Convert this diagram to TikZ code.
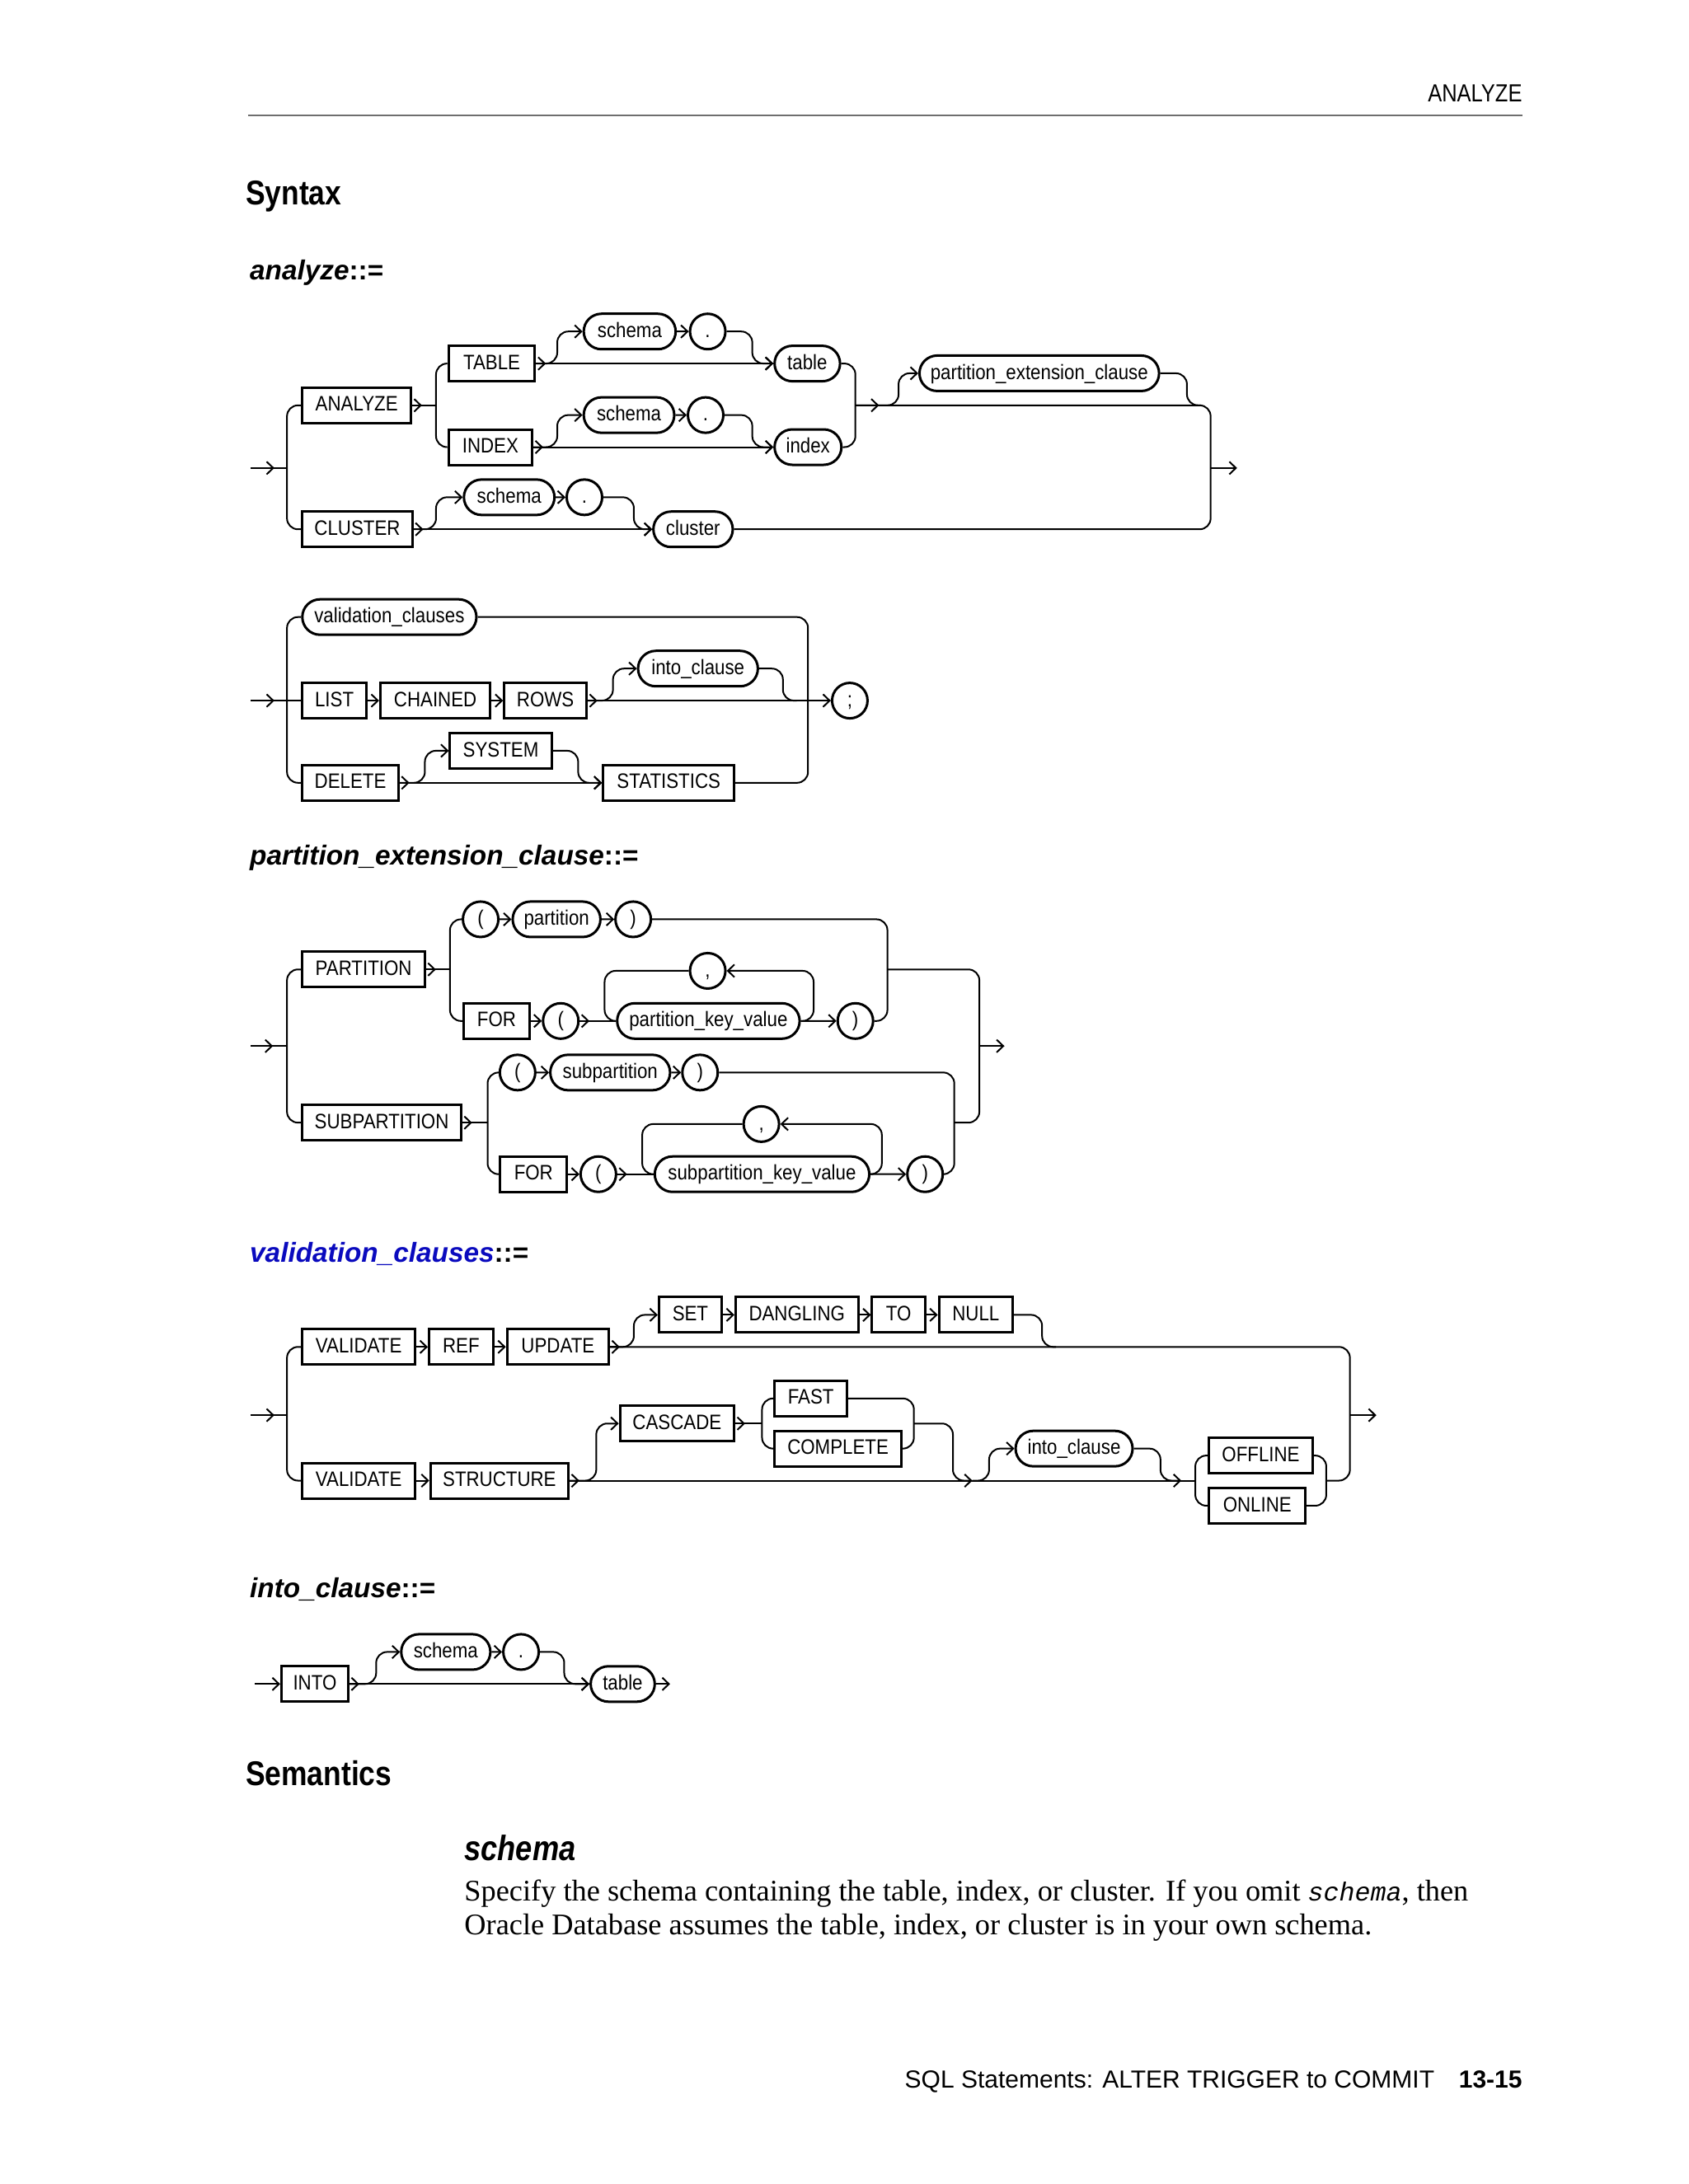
\documentclass[tikz,border=0pt]{standalone}
\usepackage{fontspec}
\setmainfont{Liberation Serif}
\setsansfont{Liberation Sans}
\setmonofont{Liberation Mono}
\newfontfamily\railfont[FakeStretch=0.88]{Liberation Sans}
\newfontfamily\narrowfont[FakeStretch=0.85]{Liberation Sans}
\usetikzlibrary{arrows.meta,shapes.misc}
\definecolor{linkblue}{RGB}{10,10,190}
\definecolor{rulegray}{RGB}{110,110,110}

\begin{document}
\begin{tikzpicture}[x=0.507pt,y=-0.507pt,
  font=\railfont\fontsize{7.6}{9}\selectfont,
  kw/.style={draw,line width=0.9pt,rectangle,minimum height=12.9pt,inner sep=0pt,text height=5.6pt,text depth=1.3pt},
  nt/.style={draw,line width=0.9pt,rounded rectangle,minimum height=12.9pt,inner sep=0pt,text height=5.6pt,text depth=1.3pt},
  wd/.style={minimum width=#1*0.507pt},
  rail/.style={line width=0.6pt},
  rc/.style={rounded corners=4pt},
  tip/.style={-{Straight Barb[length=2.4pt,width=4.6pt]}},
  txt/.style={inner sep=0pt,anchor=base west},
  ttl/.style={txt,font=\sffamily\bfseries\fontsize{10}{12}\selectfont}]
  \useasboundingbox (0,0) rectangle (1212,1568);
  % page head
  \node[txt,anchor=base east,font=\narrowfont\fontsize{9}{11}\selectfont] (hdr) at (1093,73) {ANALYZE};
  \draw[rulegray,line width=0.5pt] (178,83) -- (1093,83);
  \node[txt,font=\narrowfont\bfseries\fontsize{12.5}{15}\selectfont] (syntax) at (176,147) {Syntax};

  % analyze::=
  \node[ttl] (tanalyze) at (179,201) {\textit{analyze}::=};
  \coordinate (in1) at (180,336);
  \coordinate (out1) at (888,336);
  \node[kw,wd=78] (analyze) at (256,291) {ANALYZE};
  \node[kw,wd=62] (ktable) at (353,261) {TABLE};
  \node[kw,wd=60] (kindex) at (352,321) {INDEX};
  \node[kw,wd=79] (kcluster) at (256.5,380) {CLUSTER};
  \node[nt,wd=66] (schemaA) at (452,238) {schema};
  \node[nt,wd=24] (dotA) at (508,238) {.};
  \node[nt,wd=47] (table) at (579.5,261) {table};
  \node[nt,wd=65] (schemaB) at (451.5,298) {schema};
  \node[nt,wd=23] (dotB) at (506.5,298) {.};
  \node[nt,wd=48] (index) at (580,321) {index};
  \node[nt,wd=65] (schemaC) at (365.5,357) {schema};
  \node[nt,wd=23] (dotC) at (419.5,357) {.};
  \node[nt,wd=57] (cluster) at (497.5,380) {cluster};
  \node[nt,wd=172] (pec) at (746,268) {partition\_extension\_clause};
  \coordinate (jA) at (614,291);
  \draw[rail] (in1) -- (206,336);
  \draw[rail,tip] (in1) -- ++(17,0);
  \draw[rail,rc] (analyze.west) -| (206,336) |- (kcluster.west);
  \draw[rail,tip] (analyze.east) -- ++(7,0);
  \draw[rail] (analyze.east) -- (313,291);
  \draw[rail,rc] (ktable.west) -| (313,291) |- (kindex.west);
  % TABLE
  \draw[rail,tip] (ktable.east) -- ++(7,0);
  \draw[rail,tip] (ktable.east) -- (table.west);
  \draw[rail,rc,tip] (ktable.east) -- (400,261) |- (schemaA.west);
  \draw[rail,tip] (schemaA) -- (dotA);
  \draw[rail,rc,tip] (dotA.east) -| (540,261) -- (table.west);
  % INDEX
  \draw[rail,tip] (kindex.east) -- ++(7,0);
  \draw[rail,tip] (kindex.east) -- (index.west);
  \draw[rail,rc,tip] (kindex.east) -- (400,321) |- (schemaB.west);
  \draw[rail,tip] (schemaB) -- (dotB);
  \draw[rail,rc,tip] (dotB.east) -| (540,321) -- (index.west);
  \draw[rail,rc] (table.east) -| (jA) |- (index.east);
  % partition_extension_clause
  \draw[rail,rc] (jA) -| (869,336) |- (cluster.east);
  \draw[rail,tip] (jA) -- ++(17,0);
  \draw[rail,rc,tip] (jA) -- ++(31,0) |- (pec.west);
  \draw[rail,rc] (pec.east) -| (852,291) -- (862,291);
  \draw[rail,tip] (869,336) -- (out1);
  % CLUSTER
  \draw[rail,tip] (kcluster.east) -- ++(7,0);
  \draw[rail,tip] (kcluster.east) -- (cluster.west);
  \draw[rail,rc,tip] (kcluster.east) -- (313,380) |- (schemaC.west);
  \draw[rail,tip] (schemaC) -- (dotC);
  \draw[rail,rc,tip] (dotC.east) -| (455,380) -- (cluster.west);

  % analyze, second part
  \coordinate (in2) at (180,503);
  \node[nt,wd=125] (valc) at (279.5,443) {validation\_clauses};
  \node[kw,wd=46] (list) at (240,503) {LIST};
  \node[kw,wd=79] (chained) at (312.5,503) {CHAINED};
  \node[kw,wd=59] (rows) at (391.5,503) {ROWS};
  \node[nt,wd=86] (intoA) at (501,480) {into\_clause};
  \node[nt,wd=24] (semi) at (610,503) {;};
  \node[kw,wd=69] (delete) at (251.5,562) {DELETE};
  \node[kw,wd=73] (system) at (359.5,539) {SYSTEM};
  \node[kw,wd=94] (stats) at (480,562) {STATISTICS};
  \draw[rail] (in2) -- (list.west);
  \draw[rail,tip] (in2) -- ++(17,0);
  \draw[rail,rc] (valc.west) -| (206,503) |- (delete.west);
  \draw[rail,tip] (list) -- (chained);
  \draw[rail,tip] (chained) -- (rows);
  \draw[rail,tip] (rows.east) -- ++(7,0);
  \draw[rail,tip] (rows.east) -- (semi.west);
  \draw[rail,rc,tip] (rows.east) -- (440,503) |- (intoA.west);
  \draw[rail,rc] (intoA.east) -| (562,503) -- (572,503);
  \draw[rail,rc] (valc.east) -| (580,503) |- (stats.east);
  \draw[rail,tip] (delete.east) -- ++(7,0);
  \draw[rail,tip] (delete.east) -- (stats.west);
  \draw[rail,rc,tip] (delete.east) -- (305,562) |- (system.west);
  \draw[rail,rc,tip] (system.east) -| (415,562) -- (stats.west);

  % partition_extension_clause::=
  \node[ttl] (tpec) at (179,621) {\textit{partition\_extension\_clause}::=};
  \coordinate (in3) at (180,751);
  \coordinate (out3) at (721,751);
  \coordinate (jC) at (637,696);
  \node[kw,wd=88] (partition) at (261,696) {PARTITION};
  \node[nt,wd=24] (lpA) at (345,660) {(};
  \node[nt,wd=63] (part) at (399.5,660) {partition};
  \node[nt,wd=25] (rpA) at (454.5,660) {)};
  \node[kw,wd=47] (forA) at (356.5,733) {FOR};
  \node[nt,wd=23] (lpB) at (402.5,733) {(};
  \node[nt,wd=131] (pkv) at (508.5,733) {partition\_key\_value};
  \node[nt,wd=24] (commaA) at (508,697) {,};
  \node[nt,wd=25] (rpB) at (614,733) {)};
  \node[kw,wd=114] (subpartition) at (274,806) {SUBPARTITION};
  \node[nt,wd=23] (lpC) at (371.5,770) {(};
  \node[nt,wd=86] (subpart) at (438,770) {subpartition};
  \node[nt,wd=23] (rpC) at (502.5,770) {)};
  \node[kw,wd=48] (forB) at (383,843) {FOR};
  \node[nt,wd=23] (lpD) at (429.5,843) {(};
  \node[nt,wd=154] (spkv) at (547,843) {subpartition\_key\_value};
  \node[nt,wd=23] (commaB) at (546.5,807) {,};
  \node[nt,wd=22] (rpD) at (664,843) {)};
  \draw[rail] (in3) -- (206,751);
  \draw[rail,tip] (in3) -- ++(16,0);
  \draw[rail,rc] (partition.west) -| (206,751) |- (subpartition.west);
  % PARTITION
  \draw[rail,tip] (partition.east) -- ++(7,0);
  \draw[rail] (partition.east) -- (323,696);
  \draw[rail,rc] (lpA.west) -| (323,696) |- (forA.west);
  \draw[rail,tip] (lpA) -- (part);
  \draw[rail,tip] (part) -- (rpA);
  \draw[rail,tip] (forA) -- (lpB);
  \draw[rail,tip] (lpB.east) -- ++(7,0);
  \draw[rail] (lpB.east) -- (pkv.west);
  \draw[rail,rc] (commaA.west) -| (434,733) -- (pkv.west);
  \draw[rail,rc,tip] (pkv.east) -| (584,697) -- (commaA.east);
  \draw[rail,tip] (pkv) -- (rpB);
  \draw[rail,rc] (rpA.east) -| (jC) |- (rpB.east);
  \draw[rail,rc] (jC) -| (703,751) |- (685,806);
  \draw[rail,tip] (703,751) -- (out3);
  % SUBPARTITION
  \draw[rail,tip] (subpartition.east) -- ++(7,0);
  \draw[rail] (subpartition.east) -- (350,806);
  \draw[rail,rc] (lpC.west) -| (350,806) |- (forB.west);
  \draw[rail,tip] (lpC) -- (subpart);
  \draw[rail,tip] (subpart) -- (rpC);
  \draw[rail,tip] (forB) -- (lpD);
  \draw[rail,tip] (lpD.east) -- ++(7,0);
  \draw[rail] (lpD.east) -- (spkv.west);
  \draw[rail,rc] (commaB.west) -| (461,843) -- (spkv.west);
  \draw[rail,rc,tip] (spkv.east) -| (633,807) -- (commaB.east);
  \draw[rail,tip] (spkv) -- (rpD);
  \draw[rail,rc] (rpC.east) -| (685,806) |- (rpD.east);

  % validation_clauses::=
  \node[ttl] (tval) at (179,906) {\textcolor{linkblue}{\textit{validation\_clauses}}::=};
  \coordinate (in4) at (180,1016);
  \coordinate (out4) at (988,1016);
  \coordinate (jF) at (656,1022);
  \coordinate (jI) at (698,1063);
  \coordinate (jO) at (858,1063);
  \coordinate (jV) at (952,1063);
  \node[kw,wd=81] (valA) at (257.5,967) {VALIDATE};
  \node[kw,wd=46] (ref) at (331,967) {REF};
  \node[kw,wd=73] (update) at (400.5,967) {UPDATE};
  \node[kw,wd=45] (set) at (495.5,944) {SET};
  \node[kw,wd=88] (dangling) at (572,944) {DANGLING};
  \node[kw,wd=38] (to) at (645,944) {TO};
  \node[kw,wd=53] (null) at (700.5,944) {NULL};
  \node[kw,wd=81] (valB) at (257.5,1063) {VALIDATE};
  \node[kw,wd=99] (structure) at (358.5,1063) {STRUCTURE};
  \node[kw,wd=82] (cascade) at (486,1022) {CASCADE};
  \node[kw,wd=52] (fast) at (582,1004) {FAST};
  \node[kw,wd=91] (complete) at (601.5,1040) {COMPLETE};
  \node[nt,wd=84] (intoB) at (771,1040) {into\_clause};
  \node[kw,wd=74] (offline) at (905,1045) {OFFLINE};
  \node[kw,wd=69] (online) at (902.5,1081) {ONLINE};
  \draw[rail] (in4) -- (206,1016);
  \draw[rail,tip] (in4) -- ++(17,0);
  \draw[rail,rc] (valA.west) -| (206,1016) |- (valB.west);
  % VALIDATE REF UPDATE
  \draw[rail,tip] (valA) -- (ref);
  \draw[rail,tip] (ref) -- (update);
  \draw[rail,tip] (update.east) -- ++(7,0);
  \draw[rail,rc] (update.east) -| (969,1016) |- (jV);
  \draw[rail,rc,tip] (update.east) -- (455,967) |- (set.west);
  \draw[rail,tip] (set) -- (dangling);
  \draw[rail,tip] (dangling) -- (to);
  \draw[rail,tip] (to) -- (null);
  \draw[rail,rc] (null.east) -| (748,967) -- (758,967);
  \draw[rail,tip] (969,1016) -- (out4);
  % VALIDATE STRUCTURE
  \draw[rail,tip] (valB) -- (structure);
  \draw[rail,tip] (structure.east) -- ++(7,0);
  \draw[rail] (structure.east) -- (jO);
  \draw[rail,rc,tip] (structure.east) -- (428,1063) |- (cascade.west);
  \draw[rail,tip] (cascade.east) -- ++(7,0);
  \draw[rail] (cascade.east) -- (547,1022);
  \draw[rail,rc] (fast.west) -| (547,1022) |- (complete.west);
  \draw[rail,rc] (fast.east) -| (jF) |- (complete.east);
  \draw[rail,rc,tip] (jF) -| (684,1063) -- (jI);
  \draw[rail,rc,tip] (jI) -| (710,1040) -- (intoB.west);
  \draw[rail,rc,tip] (intoB.east) -| (833,1063) -- (848,1063);
  \draw[rail,rc] (offline.west) -| (jO) |- (online.west);
  \draw[rail,rc] (offline.east) -| (jV) |- (online.east);

  % into_clause::=
  \node[ttl] (tinto) at (179,1147) {\textit{into\_clause}::=};
  \coordinate (in5) at (183,1209);
  \coordinate (out5) at (481,1209);
  \node[kw,wd=48] (into) at (226,1209) {INTO};
  \node[nt,wd=64] (schemaD) at (320,1186) {schema};
  \node[nt,wd=24] (dotD) at (374,1186) {.};
  \node[nt,wd=46] (tableB) at (447,1209) {table};
  \draw[rail,tip] (in5) -- (into.west);
  \draw[rail,tip] (into.east) -- ++(7,0);
  \draw[rail,tip] (into.east) -- (tableB.west);
  \draw[rail,rc,tip] (into.east) -- (270,1209) |- (schemaD.west);
  \draw[rail,tip] (schemaD) -- (dotD);
  \draw[rail,rc,tip] (dotD.east) -| (405,1209) -- (tableB.west);
  \draw[rail,tip] (tableB.east) -- (out5);

  % semantics
  \node[txt,font=\narrowfont\bfseries\fontsize{12.5}{15}\selectfont] (semantics) at (176,1282) {Semantics};
  \node[txt,font=\narrowfont\bfseries\itshape\fontsize{12.8}{15}\selectfont] (schemahd) at (333,1336) {schema};
  \node[txt,font=\rmfamily\fontsize{10.9}{12}\selectfont] (semA) at (333,1365) {Specify the schema containing the table, index, or cluster. If you omit {\ttfamily\itshape\fontsize{9.5}{12}\selectfont schema}, then};
  \node[txt,font=\rmfamily\fontsize{10.9}{12}\selectfont] (semB) at (333,1389) {Oracle Database assumes the table, index, or cluster is in your own schema.};

  % page foot
  \node[txt,anchor=base east,font=\sffamily\fontsize{9}{11}\selectfont] (foot) at (1030,1499) {SQL Statements: ALTER TRIGGER to COMMIT};
  \node[txt,anchor=base east,font=\sffamily\bfseries\fontsize{9}{11}\selectfont] (pg) at (1093,1499) {13-15};
\end{tikzpicture}
\end{document}
